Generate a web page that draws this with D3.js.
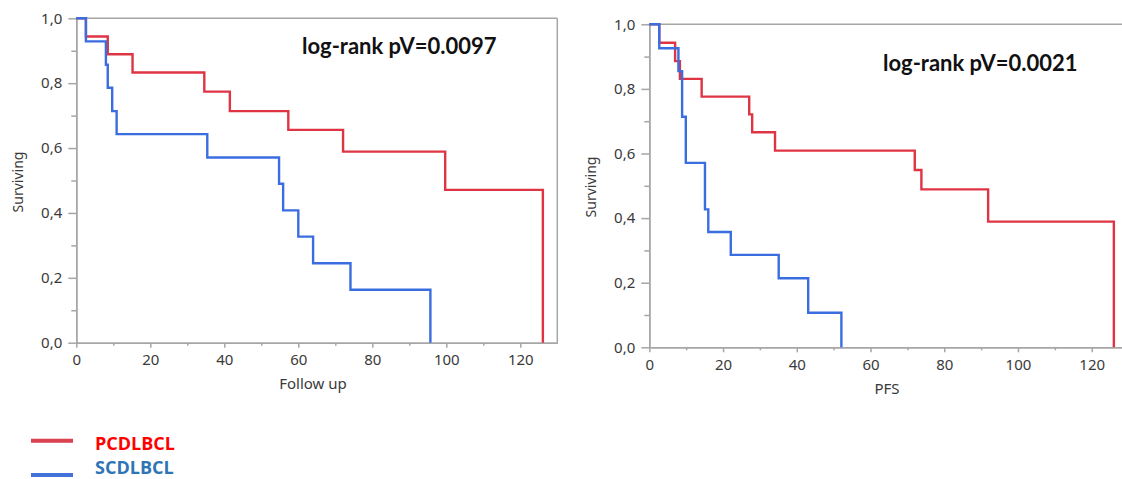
<!DOCTYPE html>
<html><head><meta charset="utf-8">
<script src="https://cdn.jsdelivr.net/npm/d3@7"></script>
<style>body{margin:0;background:#fff}svg{display:block}</style>
</head><body>
<script>
// ---- data ----
const leftPcTimes = [0, 2.6, 8.5, 15.2, 34.6, 41.5, 57.3, 72.1, 99.7, 126.1];
const leftPcSurv  = [1.0, 0.944, 0.889, 0.833, 0.774, 0.714, 0.656, 0.589, 0.471, 0.0];
const leftScTimes = [0, 2.6, 8.0, 8.5, 9.7, 10.9, 35.4, 54.8, 55.9, 60.0, 64.0, 74.1, 95.7];
const leftScSurv  = [1.0, 0.929, 0.857, 0.786, 0.714, 0.643, 0.571, 0.49, 0.408, 0.327, 0.245, 0.163, 0.0];
const rightPcTimes = [0, 2.7, 7.0, 8.3, 14.2, 27.1, 27.9, 34.1, 72.0, 73.8, 91.9, 126.0];
const rightPcSurv  = [1.0, 0.943, 0.886, 0.831, 0.776, 0.721, 0.666, 0.609, 0.549, 0.489, 0.389, 0.0];
const rightScTimes = [0, 2.7, 7.9, 8.9, 9.9, 15.1, 16.0, 22.1, 35.1, 43.1, 52.1];
const rightScSurv  = [1.0, 0.926, 0.855, 0.714, 0.571, 0.427, 0.357, 0.286, 0.214, 0.107, 0.0];
const xMajorTicks = [0, 20, 40, 60, 80, 100, 120];
const xMinorTicks = [10, 30, 50, 70, 90, 110];
const yMajorTicks = [0, 0.2, 0.4, 0.6, 0.8, 1.0];
const yMinorTicks = [0.1, 0.3, 0.5, 0.7, 0.9];
const seriesNames = ["PCDLBCL", "SCDLBCL"];
const pValues = ["log-rank pV=0.0097", "log-rank pV=0.0021"];
const xTitles = ["Follow up", "PFS"];

const W = 1122, H = 479;
const svg = d3.select("body").append("svg").attr("width", W).attr("height", H);
const RED = "#df3444", BLUE = "#3a6ee0", AXIS = "#a6a6a6", TXT = "#3a3a3a";
const FONT = "'Noto Sans', sans-serif";

const panels = [
  {x0: 76.3, x1: 557.3, y0: 342.7, y1: 18.3, pc: [leftPcTimes, leftPcSurv], sc: [leftScTimes, leftScSurv],
   p: pValues[0], px: 302, py: 53.5, title: xTitles[0], tx: 313, ty: 389, yTitleX: 18, yTitleY: 182, rightFrame: true},
  {x0: 649.3, x1: 1128.6, y0: 347.3, y1: 24.3, pc: [rightPcTimes, rightPcSurv], sc: [rightScTimes, rightScSurv],
   p: pValues[1], px: 883, py: 70.7, title: xTitles[1], tx: 887, ty: 394, yTitleX: 591, yTitleY: 187, rightFrame: true}
];

panels.forEach(P => {
  const x = d3.scaleLinear().domain([0, 130]).range([P.x0, P.x1]);
  const y = d3.scaleLinear().domain([0, 1]).range([P.y0, P.y1]);
  const g = svg.append("g");

  g.append("line").attr("x1", x(0)).attr("x2", x(130)).attr("y1", y(1)).attr("y2", y(1))
    .attr("stroke", AXIS).attr("stroke-width", 1.5);
  if (P.rightFrame) g.append("line").attr("x1", x(130)).attr("x2", x(130)).attr("y1", y(0)).attr("y2", y(1))
    .attr("stroke", AXIS).attr("stroke-width", 1.5);

  const xMin = g.append("g").attr("transform", `translate(0,${P.y0})`)
    .call(d3.axisBottom(x).tickValues(xMinorTicks).tickFormat("").tickSize(3).tickSizeOuter(0));
  const yMin = g.append("g").attr("transform", `translate(${P.x0},0)`)
    .call(d3.axisLeft(y).tickValues(yMinorTicks).tickFormat("").tickSize(5).tickSizeOuter(0));
  const xAx = g.append("g").attr("transform", `translate(0,${P.y0})`)
    .call(d3.axisBottom(x).tickValues(xMajorTicks).tickFormat(d3.format("d")).tickSize(5).tickPadding(7).tickSizeOuter(0));
  const yAx = g.append("g").attr("transform", `translate(${P.x0},0)`)
    .call(d3.axisLeft(y).tickValues(yMajorTicks).tickFormat(d => d.toFixed(1).replace(".", ",")).tickSize(8).tickPadding(6).tickSizeOuter(0));
  [xMin, yMin, xAx, yAx].forEach(a => {
    a.selectAll("path,line").attr("stroke", AXIS).attr("stroke-width", 1.5);
    a.selectAll("text").attr("fill", TXT).style("font-family", FONT).style("font-size", "15px");
  });

  const line = d3.line().x(d => x(d[0])).y(d => y(d[1])).curve(d3.curveStepAfter);
  const pcData = d3.zip(P.pc[0], P.pc[1]);
  const scData = d3.zip(P.sc[0], P.sc[1]);
  g.append("path").datum(pcData).attr("d", line).attr("fill", "none").attr("stroke", RED).attr("stroke-width", 2.4);
  g.append("path").datum(scData).attr("d", line).attr("fill", "none").attr("stroke", BLUE).attr("stroke-width", 2.4);

  g.append("text").attr("x", P.px).attr("y", P.py).text(P.p)
    .style("font-family", "Lato, sans-serif").style("font-weight", "bold").style("font-size", "22px").attr("fill", "#111");
  g.append("text").attr("x", P.tx).attr("y", P.ty).attr("text-anchor", "middle").text(P.title)
    .style("font-family", FONT).style("font-size", "15px").attr("fill", TXT);
  g.append("text").attr("transform", `translate(${P.yTitleX + 5},${P.yTitleY}) rotate(-90)`).attr("text-anchor", "middle")
    .text("Surviving").style("font-family", FONT).style("font-size", "14px").attr("fill", TXT);
});

// legend
const legColors = [["#d9414f", "#ff0000"], ["#4472d8", "#2e75b6"]];
const legLineY = [440.7, 475];
const legTextY = [450, 474];
seriesNames.forEach((s, i) => {
  svg.append("line").attr("x1", 31).attr("x2", 73).attr("y1", legLineY[i]).attr("y2", legLineY[i])
    .attr("stroke", legColors[i][0]).attr("stroke-width", 4);
  svg.append("text").attr("x", 95).attr("y", legTextY[i]).text(s)
    .style("font-family", "'Open Sans', sans-serif").style("font-weight", "bold").style("font-size", "18px").attr("fill", legColors[i][1]);
});
</script>
</body></html>
